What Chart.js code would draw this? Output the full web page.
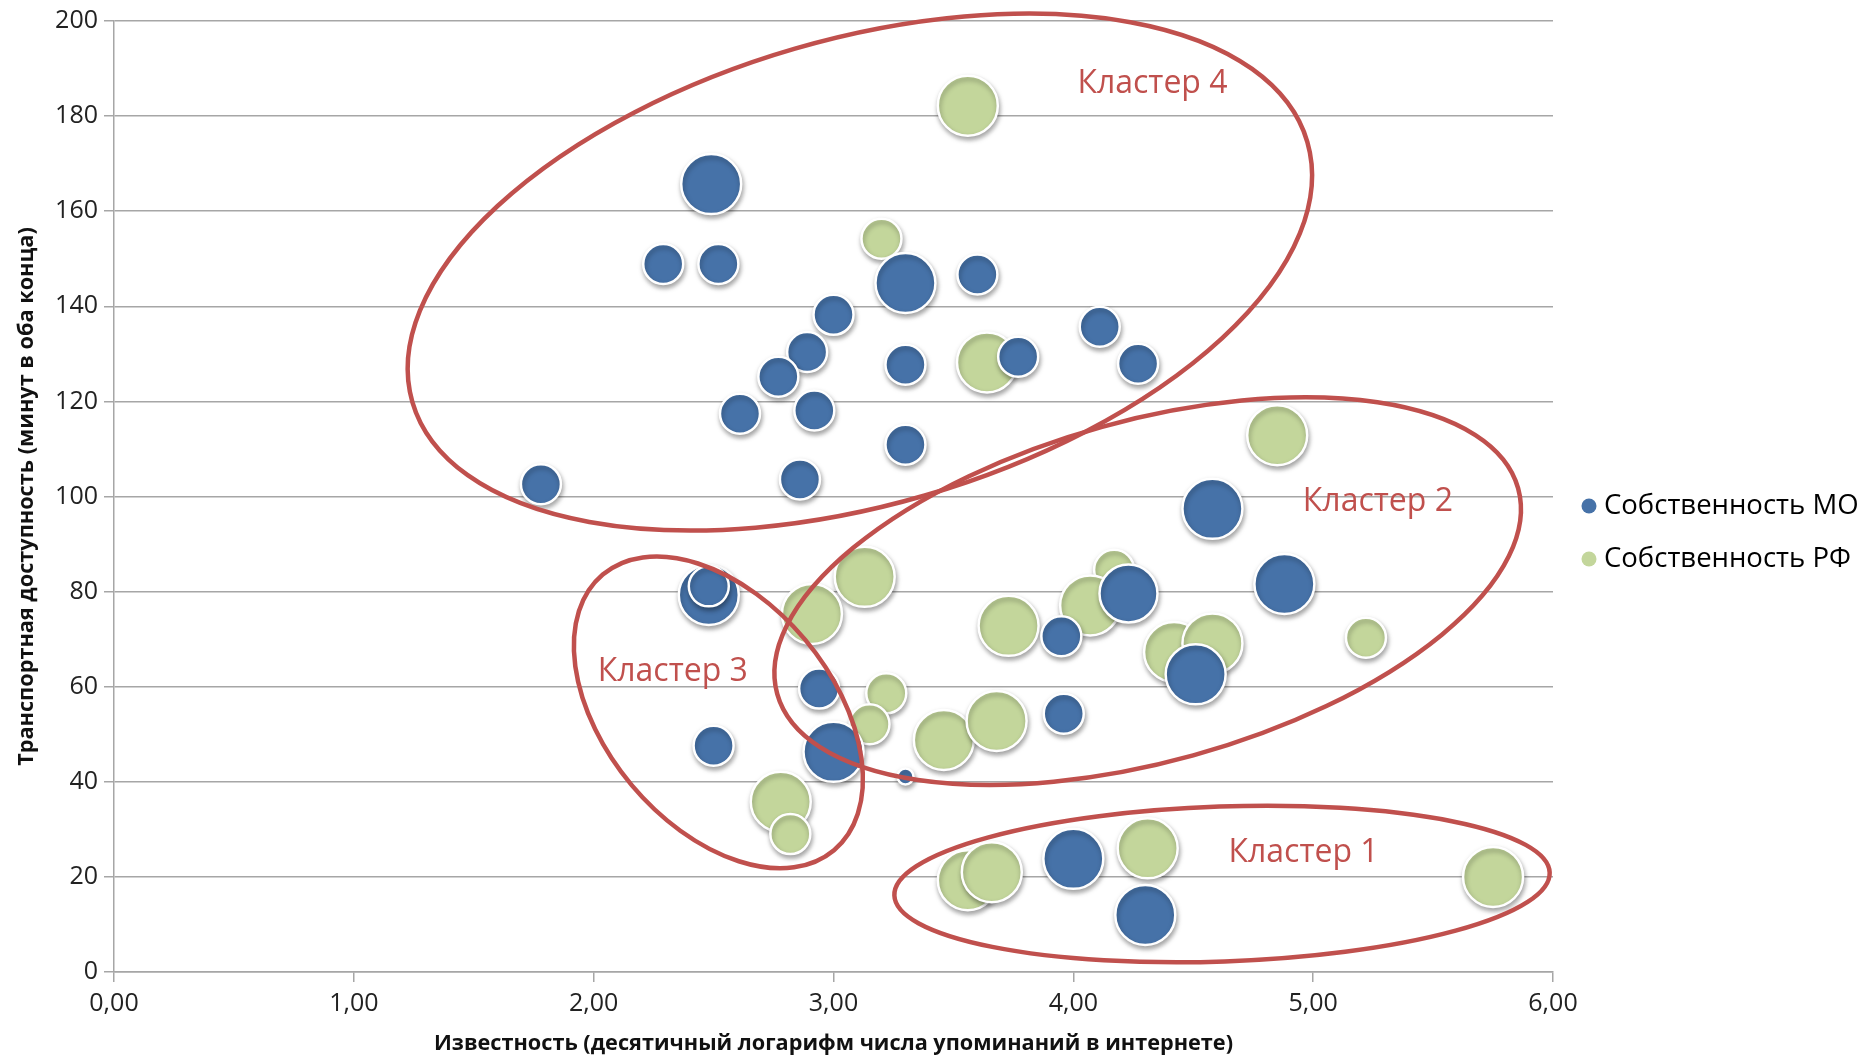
<!DOCTYPE html>
<html><head><meta charset="utf-8">
<script src="https://cdn.jsdelivr.net/npm/chart.js@4.4.0/dist/chart.umd.min.js"></script>
<style>html,body{margin:0;padding:0;background:#fff;}#wrap{width:1865px;height:1059px;position:relative;}</style>
</head><body><div id="wrap"><canvas id="c" width="1865" height="1059"></canvas></div>
<script>
// ---- data ----
const seriesNames = ['Собственность МО', 'Собственность РФ'];
const moX = [2.49, 2.29, 2.52, 3.30, 3.60, 3.00, 2.89, 2.77, 3.30, 3.77, 4.11, 4.27, 2.61, 2.92, 3.30, 1.78, 2.86, 4.58, 4.88, 2.48, 2.48, 4.23, 3.95, 4.51, 2.94, 3.96, 2.50, 3.00, 3.30, 4.00, 4.30];
const moY = [165.7, 148.9, 148.9, 144.9, 146.7, 138.2, 130.4, 125.2, 127.7, 129.4, 135.7, 127.9, 117.4, 118.1, 110.9, 102.6, 103.6, 97.4, 81.6, 79.3, 81.1, 79.6, 70.6, 62.6, 59.6, 54.3, 47.6, 46.3, 41.1, 23.8, 12.0];
const moSize = [30, 20, 20, 30, 20, 20, 20, 20, 20, 20, 20, 20, 20, 20, 20, 20, 20, 30, 30, 30, 20, 29, 20, 30, 20, 20, 20, 30, 8, 30, 30];
const rfX = [3.56, 3.20, 3.64, 4.85, 3.13, 4.17, 2.91, 3.73, 4.07, 4.42, 4.58, 5.22, 3.22, 3.15, 3.46, 3.68, 2.78, 2.82, 3.56, 3.66, 4.31, 5.75];
const rfY = [182.2, 154.2, 128.2, 112.9, 83.1, 84.6, 75.3, 72.8, 77.1, 67.3, 69.1, 70.3, 58.6, 52.1, 48.8, 52.8, 35.8, 29.0, 19.3, 21.0, 26.0, 20.0];
const rfSize = [30, 20, 30, 30, 30, 20, 30, 30, 30, 30, 30, 20, 20, 20, 30, 30, 30, 20, 30, 30, 30, 30];
const xTickValues = [0, 1, 2, 3, 4, 5, 6];
const yTickValues = [0, 20, 40, 60, 80, 100, 120, 140, 160, 180, 200];
const xTitle = 'Известность (десятичный логарифм числа упоминаний в интернете)';
const yTitle = 'Транспортная доступность (минут в оба конца)';
// cluster annotations: centre (data units), semi-axes (x units), tilt (deg)
const clusterNames = ['Кластер 1', 'Кластер 2', 'Кластер 3', 'Кластер 4'];
const clusterCx = [4.62, 4.31, 2.52, 3.11];
const clusterCy = [18.5, 80.1, 54.6, 147.2];
const clusterA = [1.367, 1.603, 0.750, 1.943];
const clusterB = [0.323, 0.711, 0.472, 0.970];
const clusterTilt = [-2, -15.5, 50, -16.2];
const clusterLabelX = [4.96, 5.27, 2.33, 4.33];
const clusterLabelY = [25.0, 98.9, 63.1, 186.7];

// ---- styles ----
const FONT = '"Open Sans", "Noto Sans", sans-serif';
const BLUE = '#4672A8';
const GREEN = '#C3D69B';
const RED = '#C0504D';
const GRID = '#A6A6A6';

const toPts = (xs, ys, ss) => xs.map((x, i) => ({x: x, y: ys[i], r: ss[i]}));

const shadowPlugin = {
  id: 'shadow',
  beforeDatasetsDraw(chart) {
    const ctx = chart.ctx; ctx.save();
    ctx.shadowColor = 'rgba(0,0,0,0.35)'; ctx.shadowBlur = 5; ctx.shadowOffsetX = 1; ctx.shadowOffsetY = 3;
  },
  afterDatasetsDraw(chart) { chart.ctx.restore(); }
};
const clusterPlugin = {
  id: 'clusters',
  afterDatasetsDraw(chart) {
    const ctx = chart.ctx, xs = chart.scales.x, ys = chart.scales.y;
    const pxUnit = xs.getPixelForValue(1) - xs.getPixelForValue(0);
    ctx.save();
    ctx.strokeStyle = RED; ctx.lineWidth = 4.5;
    for (let i = 0; i < clusterNames.length; i++) {
      ctx.beginPath();
      ctx.ellipse(xs.getPixelForValue(clusterCx[i]), ys.getPixelForValue(clusterCy[i]),
        clusterA[i] * pxUnit, clusterB[i] * pxUnit, clusterTilt[i] * Math.PI / 180, 0, Math.PI * 2);
      ctx.stroke();
    }
    ctx.fillStyle = RED; ctx.font = '32px ' + FONT; ctx.textAlign = 'center'; ctx.textBaseline = 'middle';
    for (let i = 0; i < clusterNames.length; i++) {
      ctx.fillText(clusterNames[i], xs.getPixelForValue(clusterLabelX[i]), ys.getPixelForValue(clusterLabelY[i]));
    }
    ctx.restore();
  },
  afterDraw(chart) {
    const ctx = chart.ctx;
    const colors = [BLUE, GREEN];
    const lx = chart.chartArea.right + 36, ly0 = 506, dy = 53;
    ctx.save();
    ctx.font = '27.5px ' + FONT; ctx.textBaseline = 'middle'; ctx.textAlign = 'left';
    seriesNames.forEach((n, i) => {
      ctx.fillStyle = colors[i];
      ctx.beginPath(); ctx.arc(lx, ly0 + i * dy, 7.5, 0, Math.PI * 2); ctx.fill();
      ctx.fillStyle = '#000';
      ctx.fillText(n, lx + 15, ly0 + i * dy);
    });
    ctx.restore();
  }
};

new Chart(document.getElementById('c'), {
  type: 'bubble',
  data: {
    datasets: [
      {label: seriesNames[0], data: toPts(moX, moY, moSize), backgroundColor: BLUE, borderColor: '#FFFFFF', borderWidth: 2.5, hoverRadius: 0},
      {label: seriesNames[1], data: toPts(rfX, rfY, rfSize), backgroundColor: GREEN, borderColor: '#FFFFFF', borderWidth: 2.5, hoverRadius: 0}
    ]
  },
  options: {
    responsive: false, animation: false, devicePixelRatio: 1,
    layout: {autoPadding: false, padding: {top: 21, right: 312, left: 0, bottom: 0}},
    plugins: {legend: {display: false}, tooltip: {enabled: false}},
    scales: {
      x: {
        type: 'linear', min: 0, max: 6,
        afterBuildTicks(s) { s.ticks = xTickValues.map(v => ({value: v})); },
        afterFit(s) { s.height = 87; },
        ticks: {callback: v => v.toFixed(2).replace('.', ','), color: '#222', font: {family: FONT, size: 25}, padding: 7, maxRotation: 0},
        grid: {drawOnChartArea: false, drawTicks: true, tickLength: 10, color: GRID, lineWidth: 1.5},
        border: {color: GRID, width: 1.5},
        title: {display: true, text: xTitle, color: '#111', font: {family: FONT, size: 21.7, weight: 'bold'}, padding: {top: 0, bottom: 2}}
      },
      y: {
        type: 'linear', min: 0, max: 200,
        afterBuildTicks(s) { s.ticks = yTickValues.map(v => ({value: v})); },
        afterFit(s) { s.width = 114; },
        ticks: {color: '#222', font: {family: FONT, size: 25}, padding: 6},
        grid: {drawTicks: true, tickLength: 10, color: GRID, lineWidth: 1.5},
        border: {color: GRID, width: 1.5},
        title: {display: true, text: yTitle, color: '#111', font: {family: FONT, size: 21.7, weight: 'bold'}, padding: {top: 14, bottom: 0}}
      }
    }
  },
  plugins: [shadowPlugin, clusterPlugin]
});
</script></body></html>
